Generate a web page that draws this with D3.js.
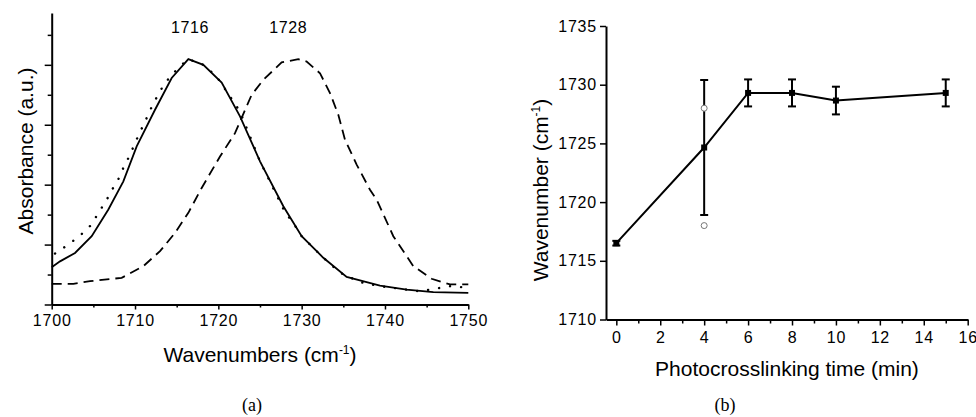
<!DOCTYPE html>
<html lang="en">
<head>
    <meta charset="utf-8">
    <script src="https://cdn.jsdelivr.net/npm/d3@7"></script>
    <style>
        body { margin: 0; background: #fff; }
        text { font-family: "Liberation Sans", Arial, sans-serif; fill: #000; }
    </style>
</head>
<body>
<div id="chart"></div>
<script>
    // ---- panel (a): IR spectra, carbonyl band ----
    var solidWn  = [1700, 1701, 1702.8, 1704.8, 1706.8, 1708.6, 1710.2, 1712.4, 1714.4, 1716.4, 1718.2, 1720.4, 1722.6, 1725.0, 1727.8, 1730.0, 1732.6, 1735.4, 1739.4, 1742.6, 1745.8, 1750]
    var solidAbs = [1.24, 1.44, 1.72, 2.28, 3.17, 4.11, 5.28, 6.5, 7.56, 8.19, 8.0, 7.41, 6.28, 4.78, 3.28, 2.28, 1.56, 0.92, 0.63, 0.5, 0.41, 0.39]

    var dashWn  = [1700, 1702.6, 1704.6, 1708.4, 1711.0, 1713.0, 1714.8, 1716.4, 1718.0, 1720.2, 1722.0, 1724.0, 1725.4, 1727.6, 1729.6, 1730.6, 1732.2, 1733.4, 1734.4, 1735.2, 1736.6, 1738.2, 1739.0, 1741.0, 1743.4, 1745.6, 1747.8, 1750]
    var dashAbs = [0.69, 0.69, 0.78, 0.89, 1.28, 1.78, 2.39, 3.06, 3.89, 4.94, 5.72, 7.0, 7.5, 8.08, 8.19, 8.11, 7.72, 7.06, 6.33, 5.5, 4.67, 3.83, 3.5, 2.28, 1.28, 0.86, 0.67, 0.67]

    var dotWn  = [1700.4, 1702.0, 1703.4, 1704.8, 1705.6, 1706.5, 1707.2, 1708.0, 1708.6, 1709.3, 1709.9, 1710.5, 1711.2, 1711.8, 1712.5, 1713.3, 1714.3, 1715.6, 1716.4, 1718.2, 1719.8, 1721.6, 1722.6, 1725.0, 1728.0, 1729.0, 1730.0, 1732.6, 1734.6, 1737.0, 1739.4, 1744.2, 1747.8, 1750]
    var dotAbs = [1.7, 2.0, 2.3, 2.67, 3.06, 3.44, 3.81, 4.18, 4.56, 4.94, 5.32, 5.7, 6.1, 6.48, 6.86, 7.26, 7.64, 8.0, 8.19, 8.0, 7.61, 6.86, 6.44, 4.78, 3.08, 2.72, 2.28, 1.56, 1.06, 0.75, 0.61, 0.44, 0.61, 0.56]

    var peakLabels = ["1716", "1728"]
    var peakPos    = [1716.6, 1728.4]
    var peakHeight = [9.05, 9.05]
    var xTicksA    = [1700, 1710, 1720, 1730, 1740, 1750]

    // ---- panel (b): peak position vs time ----
    var times   = [0, 4, 6, 8, 10, 15]
    var peakWn  = [1716.5, 1724.65, 1729.3, 1729.3, 1728.65, 1729.3]
    var peakErr = [0.2, 5.75, 1.15, 1.15, 1.18, 1.15]
    var outTimes = [4, 4]
    var outWn    = [1728.0, 1718.0]
    var xTicksB  = [0, 2, 4, 6, 8, 10, 12, 14, 16]
    var yTicksB  = [1710, 1715, 1720, 1725, 1730, 1735]

    var width = 976
        height = 417

    var svg = d3.select("#chart")
        .append("svg")
            .attr("width", width)
            .attr("height", height)

    // ================= (a) =================
    var xA = d3.scaleLinear().domain([1700, 1750]).range([51.7, 468.3])
    var yA = d3.scaleLinear().domain([0, 9.73]).range([304.5, 13])

    var gA = svg.append("g")

    var lineA = function(wn, ab) {
        return d3.line()
            .x(function(d) { return xA(wn[d]); })
            .y(function(d) { return yA(ab[d]); })(d3.range(wn.length))
    }

    gA.append("path")
        .attr("d", lineA(dotWn, dotAbs))
        .attr("fill", "none")
        .attr("stroke", "black")
        .attr("stroke-width", 2.4)
        .attr("stroke-linecap", "round")
        .attr("stroke-dasharray", "0.1,11")

    gA.append("path")
        .attr("d", lineA(solidWn, solidAbs))
        .attr("fill", "none")
        .attr("stroke", "black")
        .attr("stroke-width", 1.8)

    gA.append("path")
        .attr("d", lineA(dashWn, dashAbs))
        .attr("fill", "none")
        .attr("stroke", "black")
        .attr("stroke-width", 1.8)
        .attr("stroke-dasharray", "10,6")

    gA.selectAll(".peak")
        .data(peakLabels)
        .enter()
        .append("text")
            .attr("x", function(d, i) { return xA(peakPos[i]); })
            .attr("y", function(d, i) { return yA(peakHeight[i]); })
            .attr("text-anchor", "middle")
            .style("font-size", "16px")
            .style("letter-spacing", "0.6px")
            .text(function(d) { return d; })

    // x axis (a)
    var xAxA = gA.append("g").attr("transform", "translate(0," + yA(0) + ")")
    xAxA.call(d3.axisBottom(xA).tickValues(xTicksA).tickSize(5).tickSizeOuter(0).tickPadding(5).tickFormat(d3.format("d")))
    xAxA.append("g").call(d3.axisBottom(xA).tickValues(d3.range(1705, 1750, 10)).tickSize(3).tickFormat(""))
        .select(".domain").remove()

    // y axis (a), no labels
    var yAxA = gA.append("g").attr("transform", "translate(" + xA(1700) + ",0)")
    yAxA.call(d3.axisLeft(yA).tickValues([0, 2, 4, 6, 8]).tickSize(7).tickSizeOuter(0).tickFormat(""))
    yAxA.append("g").call(d3.axisLeft(yA).tickValues([1, 3, 5, 7, 9]).tickSize(4).tickFormat(""))
        .select(".domain").remove()

    var xTitleA = gA.append("text")
        .attr("x", 260)
        .attr("y", 361.5)
        .attr("text-anchor", "middle")
        .style("font-size", "21px")
    xTitleA.append("tspan").text("Wavenumbers (cm")
    xTitleA.append("tspan").attr("dy", -8).style("font-size", "12px").text("-1")
    xTitleA.append("tspan").attr("dy", 8).text(")")

    gA.append("text")
        .attr("transform", "translate(33,151) rotate(-90)")
        .attr("text-anchor", "middle")
        .style("font-size", "21px")
        .text("Absorbance (a.u.)")

    // ================= (b) =================
    var xB = d3.scaleLinear().domain([-0.47, 16]).range([606, 967.7])
    var yB = d3.scaleLinear().domain([1710, 1735]).range([319.5, 26])

    var gB = svg.append("g")

    var xAxB = gB.append("g").attr("transform", "translate(0," + yB(1710) + ")")
    xAxB.call(d3.axisBottom(xB).tickValues(xTicksB).tickSize(6).tickSizeOuter(0).tickPadding(6))
    xAxB.append("g").call(d3.axisBottom(xB).tickValues(d3.range(1, 16, 2)).tickSize(4).tickFormat(""))
        .select(".domain").remove()

    var yAxB = gB.append("g").attr("transform", "translate(" + xB(-0.47) + ",0)")
    yAxB.call(d3.axisLeft(yB).tickValues(yTicksB).tickSize(6).tickSizeOuter(0).tickPadding(3).tickFormat(d3.format("d")))

    var ptsB = d3.range(times.length)

    // error bars
    gB.selectAll(".err")
        .data(ptsB)
        .enter()
        .append("line")
            .attr("x1", function(i) { return xB(times[i]); })
            .attr("x2", function(i) { return xB(times[i]); })
            .attr("y1", function(i) { return yB(peakWn[i] + peakErr[i]); })
            .attr("y2", function(i) { return yB(peakWn[i] - peakErr[i]); })
            .attr("stroke", "black")
            .attr("stroke-width", 2)

    ;[1, -1].forEach(function(sgn) {
        gB.selectAll(".cap" + sgn)
            .data(ptsB)
            .enter()
            .append("line")
                .attr("x1", function(i) { return xB(times[i]) - 4; })
                .attr("x2", function(i) { return xB(times[i]) + 4; })
                .attr("y1", function(i) { return yB(peakWn[i] + sgn * peakErr[i]); })
                .attr("y2", function(i) { return yB(peakWn[i] + sgn * peakErr[i]); })
                .attr("stroke", "black")
                .attr("stroke-width", 2)
    })

    gB.append("path")
        .attr("d", d3.line()
            .x(function(i) { return xB(times[i]); })
            .y(function(i) { return yB(peakWn[i]); })(ptsB))
        .attr("fill", "none")
        .attr("stroke", "black")
        .attr("stroke-width", 2)

    gB.selectAll(".mark")
        .data(ptsB)
        .enter()
        .append("rect")
            .attr("x", function(i) { return xB(times[i]) - 3; })
            .attr("y", function(i) { return yB(peakWn[i]) - 3; })
            .attr("width", 6)
            .attr("height", 6)
            .attr("fill", "black")

    gB.selectAll(".out")
        .data(d3.range(outTimes.length))
        .enter()
        .append("circle")
            .attr("cx", function(i) { return xB(outTimes[i]); })
            .attr("cy", function(i) { return yB(outWn[i]); })
            .attr("r", 3)
            .attr("fill", "white")
            .attr("stroke", "#777")
            .attr("stroke-width", 1)

    gB.append("text")
        .attr("x", 787)
        .attr("y", 376)
        .attr("text-anchor", "middle")
        .style("font-size", "21px")
        .text("Photocrosslinking time (min)")

    var yTitleB = gB.append("text")
        .attr("transform", "translate(548,190) rotate(-90)")
        .attr("text-anchor", "middle")
        .style("font-size", "21px")
    yTitleB.append("tspan").text("Wavenumber (cm")
    yTitleB.append("tspan").attr("dy", -8).style("font-size", "12px").text("-1")
    yTitleB.append("tspan").attr("dy", 8).text(")")

    // styling of both axes
    svg.selectAll(".domain").attr("stroke-width", 2)
    svg.selectAll(".tick line").attr("stroke-width", 1.5)
    svg.selectAll(".tick text")
        .style("font-size", "16px")
        .style("letter-spacing", "0.8px")
        .style("font-family", "'Liberation Sans', Arial, sans-serif")
        .attr("fill", "#000")

    // panel letters
    svg.selectAll(".panel")
        .data(["(a)", "(b)"])
        .enter()
        .append("text")
            .attr("x", function(d, i) { return i == 0 ? 252 : 725; })
            .attr("y", 411)
            .attr("text-anchor", "middle")
            .style("font-family", "'Liberation Serif', 'Times New Roman', serif")
            .style("font-size", "18px")
            .text(function(d) { return d; })
</script>
</body>
</html>
